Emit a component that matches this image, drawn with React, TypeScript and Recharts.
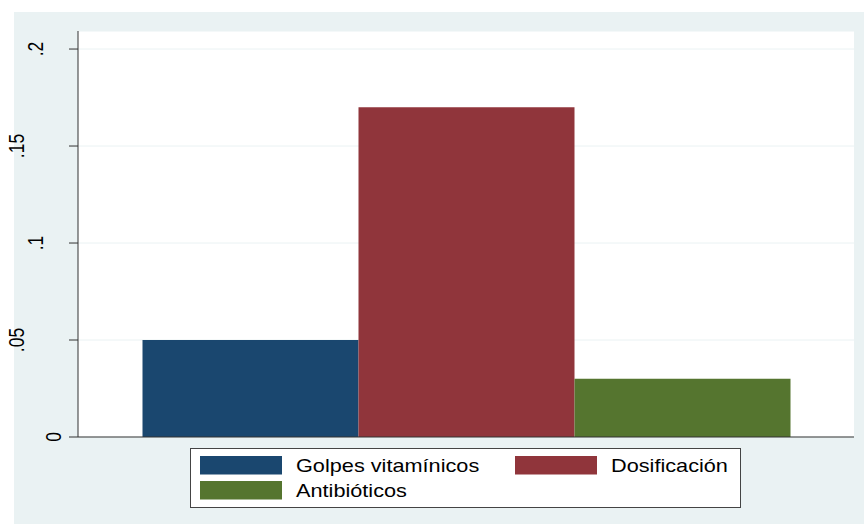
import { BarChart, Bar, XAxis, YAxis, CartesianGrid, Legend } from 'recharts';

const seriesNames = ['Golpes vitamínicos', 'Dosificación', 'Antibióticos'];
const seriesValues = [0.05, 0.17, 0.03];
const yTicks = [0, 0.05, 0.1, 0.15, 0.2];
const yTickLabels = ['0', '.05', '.1', '.15', '.2'];

const colors = ['#1a476f', '#90353b', '#55752f'];
const bg = '#eaf2f3';
const axisColor = '#333333';
const font = '"Liberation Sans", Arial, sans-serif';
const stretch = 1.24;

const data = [
  seriesNames.reduce<Record<string, string | number>>(
    (row, _, i) => {
      row[`s${i}`] = seriesValues[i];
      return row;
    },
    { name: '' }
  )
];

const YTick = (props: any) => {
  const { y, payload } = props;
  const idx = yTicks.indexOf(payload.value);
  const label = idx >= 0 ? yTickLabels[idx] : String(payload.value);
  // stata puts longer labels further left
  const bx = 61 - (label.length - 1) * 18.5;
  return (
    <g transform={`translate(${bx},${y}) scale(${stretch},1) rotate(-90)`}>
      <text x={0} y={0} textAnchor="middle" fontSize={17.5} fontFamily={font} fill="#000">
        {label}
      </text>
    </g>
  );
};

const LegendBox = (props: any) => {
  const payload = props.payload ?? [];
  const items = seriesNames.map((name, i) => {
    const p = payload.find((d: any) => d.value === name);
    return { name, color: p?.color ?? colors[i] };
  });
  return (
    <svg width={552} height={62}>
      <rect x={0.5} y={0.5} width={550} height={59} fill="#fff" stroke="#444" strokeWidth={1} />
      {items.map((it, i) => {
        const col = i % 2;
        const row = Math.floor(i / 2);
        const sx = col === 0 ? 10 : 325;
        const sy = row === 0 ? 8 : 33;
        return (
          <g key={it.name}>
            <rect x={sx} y={sy} width={82} height={18.5} fill={it.color} />
            <g transform={`translate(${sx + 96},${sy + 16}) scale(${stretch},1)`}>
              <text x={0} y={0} fontSize={17.5} fontFamily={font} fill="#000">
                {it.name}
              </text>
            </g>
          </g>
        );
      })}
    </svg>
  );
};

export default function App() {
  return (
    <div style={{ position: 'absolute', left: 0, top: 0, width: 864, height: 524, background: '#fff' }}>
      <div style={{ position: 'absolute', left: 14, top: 12, width: 850, height: 512, background: bg }} />
      <div style={{ position: 'absolute', left: 0, top: 0 }}>
        <BarChart
          width={864}
          height={524}
          data={data}
          margin={{ top: 31, right: 10, left: 14, bottom: 86 }}
          barCategoryGap={64.5}
          barGap={0}
        >
          <CartesianGrid vertical={false} stroke={bg} fill="#fff" />
          <XAxis
            dataKey="name"
            type="category"
            tick={false}
            tickLine={false}
            height={1}
            axisLine={{ stroke: axisColor, strokeWidth: 1 }}
          />
          <YAxis
            type="number"
            domain={[0, 0.2093]}
            ticks={yTicks}
            allowDataOverflow
            width={64}
            tickSize={9}
            tick={<YTick />}
            tickLine={{ stroke: axisColor }}
            axisLine={{ stroke: axisColor, strokeWidth: 1 }}
            interval={0}
          />
          <Legend
            layout="vertical"
            align="center"
            verticalAlign="middle"
            wrapperStyle={{ position: 'absolute', left: 190, top: 448, width: 552, height: 62 }}
            content={<LegendBox />}
          />
          {seriesNames.map((name, i) => (
            <Bar key={name} dataKey={`s${i}`} name={name} fill={colors[i]} isAnimationActive={false} />
          ))}
        </BarChart>
      </div>
    </div>
  );
}
